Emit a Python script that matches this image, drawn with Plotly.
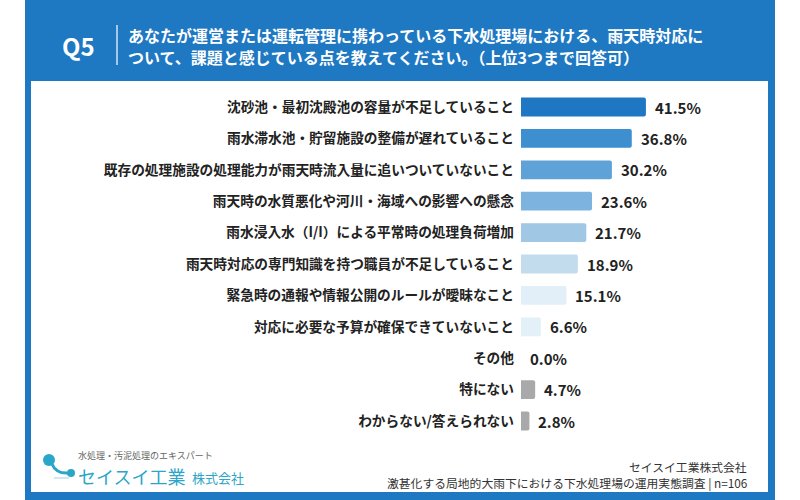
import plotly.graph_objects as go

categories = [
    "沈砂池・最初沈殿池の容量が不足していること",
    "雨水滞水池・貯留施設の整備が遅れていること",
    "既存の処理施設の処理能力が雨天時流入量に追いついていないこと",
    "雨天時の水質悪化や河川・海域への影響への懸念",
    "雨水浸入水（I/I）による平常時の処理負荷増加",
    "雨天時対応の専門知識を持つ職員が不足していること",
    "緊急時の通報や情報公開のルールが曖昧なこと",
    "対応に必要な予算が確保できていないこと",
    "その他",
    "特にない",
    "わからない/答えられない",
]
values = [41.5, 36.8, 30.2, 23.6, 21.7, 18.9, 15.1, 6.6, 0.0, 4.7, 2.8]
bar_colors = ["#1f77c3", "#3d8fd0", "#5fa2d8", "#7db4df", "#a0c7e4", "#c2dcee",
              "#e2eff8", "#e4f0f8", "#e4f0f8", "#a9a9a9", "#a9a9a9"]

title_q = "Q5"
title_lines = [
    "あなたが運営または運転管理に携わっている下水処理場における、雨天時対応に",
    "ついて、課題と感じている点を教えてください。（上位3つまで回答可）",
]
footer_right = ["セイスイ工業株式会社", "激甚化する局地的大雨下における下水処理場の運用実態調査 | n=106"]
logo_sub = "水処理・汚泥処理のエキスパート"
logo_main = "セイスイ工業"
logo_kk = "株式会社"

FONT = "Noto Sans CJK JP"
W, H = 800, 500
BLUE = "#1e78c2"
TEAL = "#2ba5c8"


def px(x):
    return x / W


def py(y):
    return 1 - y / H


fig = go.Figure()
fig.add_trace(go.Bar(
    x=values, y=categories, orientation="h",
    marker=dict(color=bar_colors, line=dict(width=0)),
    width=0.6, hoverinfo="skip",
))

shapes = [
    dict(type="rect", xref="paper", yref="paper", x0=px(25), x1=px(775), y0=0, y1=1,
         fillcolor=BLUE, line=dict(width=0), layer="below"),
    dict(type="rect", xref="paper", yref="paper", x0=px(31), x1=px(768), y0=py(492), y1=py(81),
         fillcolor="white", line=dict(width=0), layer="below"),
    dict(type="line", xref="paper", yref="paper", x0=px(117), x1=px(117), y0=py(25), y1=py(65),
         line=dict(color="white", width=1.2)),
    # logo
    dict(type="circle", xref="paper", yref="paper", x0=px(43), x1=px(55), y0=py(466), y1=py(454),
         fillcolor=TEAL, line=dict(width=0)),
    dict(type="circle", xref="paper", yref="paper", x0=px(67), x1=px(75), y0=py(477), y1=py(469),
         fillcolor=TEAL, line=dict(width=0)),
    dict(type="path", xref="paper", yref="paper",
         path=f"M {px(52)},{py(464)} Q {px(56)},{py(474)} {px(69)},{py(473)}",
         line=dict(color=TEAL, width=3)),
    dict(type="line", xref="paper", yref="paper", x0=px(54), x1=px(69), y0=py(478), y1=py(478),
         line=dict(color="#9fd3e6", width=1)),
]

ann = [
    dict(text=f"<b>{title_q}</b>", x=px(60), y=py(46), xref="paper", yref="paper",
         xanchor="left", yanchor="middle", showarrow=False,
         font=dict(family=FONT, size=24, color="white")),
]
for i, line in enumerate(title_lines):
    ann.append(dict(text=f"<b>{line}</b>", x=px(126), y=py(35 + 22 * i), xref="paper", yref="paper",
                    xanchor="left", yanchor="middle", showarrow=False,
                    font=dict(family=FONT, size=16, color="white")))
for c, v in zip(categories, values):
    ann.append(dict(text=f"<b>{v:.1f}%</b>", x=v, y=c, xref="x", yref="y",
                    xanchor="left", yanchor="middle", xshift=7, showarrow=False,
                    font=dict(family=FONT, size=15, color="#222222")))
for i, line in enumerate(footer_right):
    ann.append(dict(text=line, x=px(749), y=py(466 + 17 * i), xref="paper", yref="paper",
                    xanchor="right", yanchor="middle", showarrow=False,
                    font=dict(family=FONT, size=11.8, color="#333333")))
ann.append(dict(text=logo_sub, x=px(76), y=py(455), xref="paper", yref="paper",
                xanchor="left", yanchor="middle", showarrow=False,
                font=dict(family=FONT, size=9, color="#666666")))
ann.append(dict(text=logo_main, x=px(76), y=py(476), xref="paper", yref="paper",
                xanchor="left", yanchor="middle", showarrow=False,
                font=dict(family=FONT, size=18, color=TEAL)))
ann.append(dict(text=logo_kk, x=px(190), y=py(477), xref="paper", yref="paper",
                xanchor="left", yanchor="middle", showarrow=False,
                font=dict(family=FONT, size=13, color=TEAL)))

fig.update_layout(
    width=W, height=H, margin=dict(l=0, r=0, t=0, b=0),
    paper_bgcolor="white", plot_bgcolor="rgba(0,0,0,0)",
    showlegend=False, barcornerradius=2,
    shapes=shapes, annotations=ann,
    xaxis=dict(domain=[px(521), px(671.5)], range=[0, 50], visible=False, fixedrange=True),
    yaxis=dict(domain=[py(436.7), py(91.3)], type="category",
               categoryorder="array", categoryarray=categories,
               range=[len(categories) - 0.5, -0.5],
               tickvals=categories, ticktext=[f"<b>{c}</b>" for c in categories],
               ticks="", ticklabelstandoff=6, showgrid=False, showline=False, zeroline=False,
               tickfont=dict(family=FONT, size=13.7, color="#222222")),
    font=dict(family=FONT),
)

fig.write_html("out.html")
